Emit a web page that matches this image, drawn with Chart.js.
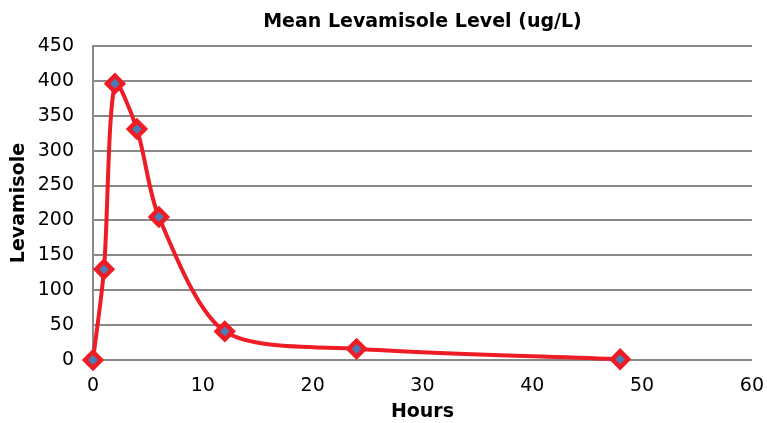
<!DOCTYPE html>
<html>
<head>
<meta charset="utf-8">
<script src="https://cdn.jsdelivr.net/npm/chart.js@4/dist/chart.umd.min.js"></script>
<style>
html,body{margin:0;padding:0;background:#fff;}
#wrap{width:767px;height:423px;}
</style>
</head>
<body>
<div id="wrap"><canvas id="c" width="767" height="423"></canvas></div>
<script>
const hours = [0, 1, 2, 4, 6, 12, 24, 48];
const levels = [0, 130, 396, 331, 205, 41, 16, 1];
const chartTitle = 'Mean Levamisole Level (ug/L)';
const xTitle = 'Hours';
const yTitle = 'Levamisole';

const FONT = "'DejaVu Sans', sans-serif";
const points = hours.map((h, i) => ({x: h, y: levels[i]}));

new Chart(document.getElementById('c'), {
  type: 'scatter',
  data: {
    datasets: [{
      data: points,
      showLine: true,
      borderColor: '#EE1C25',
      borderWidth: 4,
      tension: 0.28,
      pointStyle: 'rectRot',
      pointRadius: 8,
      pointHoverRadius: 8,
      pointBackgroundColor: '#4A7EBB',
      pointBorderColor: '#EE1C25',
      pointBorderWidth: 4.5,
      clip: false
    }]
  },
  options: {
    responsive: false,
    animation: false,
    layout: {padding: {left: 0, right: 15, top: 0, bottom: 0}},
    plugins: {
      legend: {display: false},
      tooltip: {enabled: false},
      title: {
        display: true,
        fullSize: false,
        text: chartTitle,
        color: '#000',
        font: {family: FONT, size: 19, weight: 'bold', lineHeight: 1.2},
        padding: {top: 11, bottom: 12.2}
      }
    },
    scales: {
      x: {
        type: 'linear',
        min: 0, max: 60,
        ticks: {stepSize: 10, color: '#000', font: {family: FONT, size: 19}, padding: 3},
        grid: {display: true, drawOnChartArea: false, drawTicks: true, tickLength: 12, color: 'rgba(0,0,0,0)'},
        border: {display: true, color: '#898989', width: 2},
        title: {display: true, text: xTitle, color: '#000', font: {family: FONT, size: 19, weight: 'bold'}, padding: {top: 0, bottom: 0}},
        afterFit: s => { s.height = 63; }
      },
      y: {
        type: 'linear',
        min: 0, max: 450,
        ticks: {stepSize: 50, color: '#000', font: {family: FONT, size: 19}, padding: 19},
        grid: {display: true, drawTicks: false, color: '#898989', lineWidth: 2},
        border: {display: true, color: '#898989', width: 2},
        title: {display: true, text: yTitle, color: '#000', font: {family: FONT, size: 19, weight: 'bold'}, padding: {top: 8, bottom: 0}},
        afterFit: s => { s.width = 93; }
      }
    }
  }
});
</script>
</body>
</html>
